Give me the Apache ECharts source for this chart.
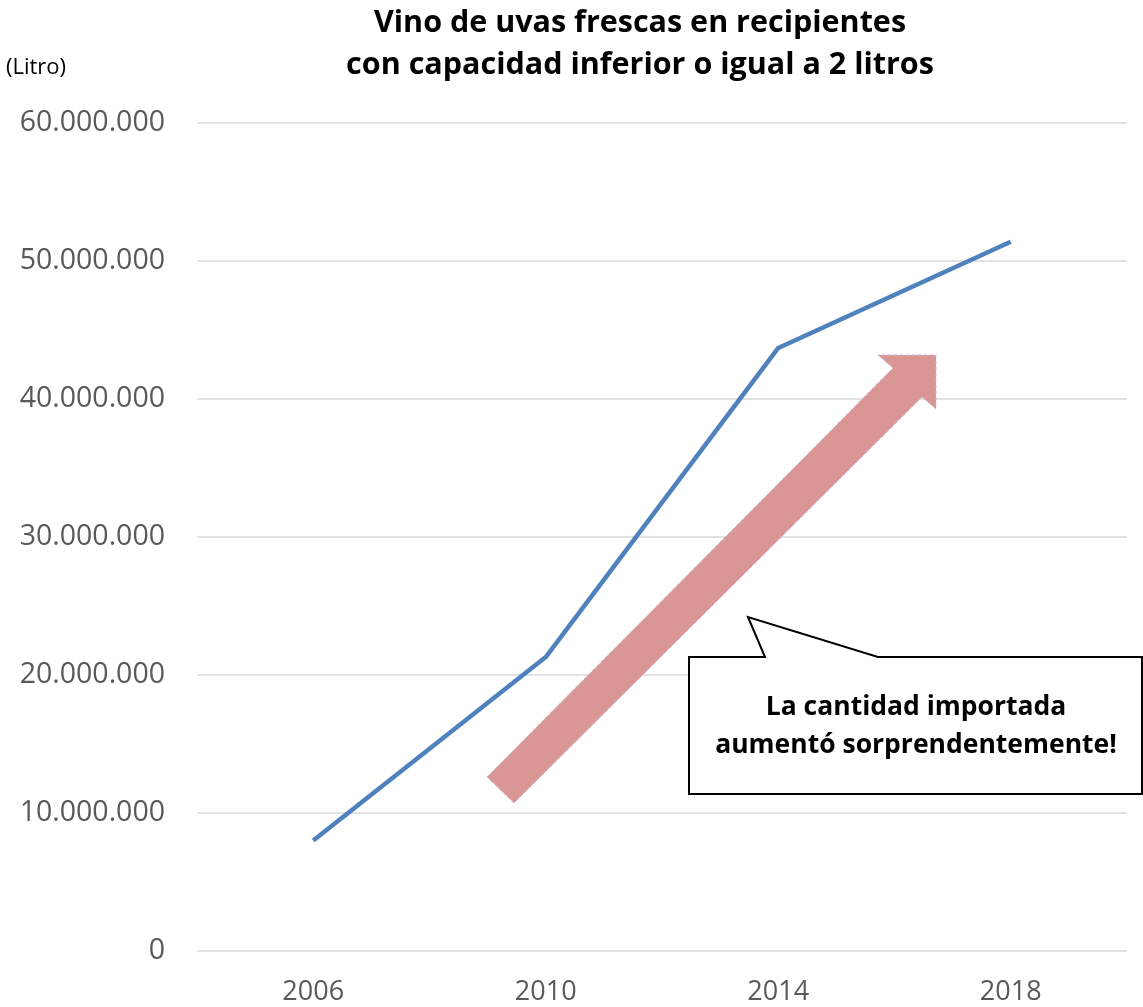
<!DOCTYPE html>
<html><head><meta charset="utf-8">
<script src="https://cdn.jsdelivr.net/npm/echarts@6/dist/echarts.min.js"></script>
<style>html,body{margin:0;padding:0;background:#fff}#c{width:1143px;height:1007px}</style>
</head><body><div id="c"></div>
<script>
const years = ['2006', '2010', '2014', '2018'];
const litros = [8000000, 21300000, 43700000, 51400000];
const yTicks = [0, 10000000, 20000000, 30000000, 40000000, 50000000, 60000000];
const titleLines = ['Vino de uvas frescas en recipientes', 'con capacidad inferior o igual a 2 litros'];
const unitLabel = '(Litro)';
const calloutLines = ['La cantidad importada', 'aumentó sorprendentemente!'];

const FONT = '"Open Sans", "Noto Sans", sans-serif';
const chart = echarts.init(document.getElementById('c'));
function fmt(v){ return String(v).replace(/\B(?=(\d{3})+(?!\d))/g, '.'); }

chart.setOption({
  animation: false,
  backgroundColor: '#fff',
  title: {
    text: titleLines.join('\n'),
    left: 635, textAlign: 'center', top: -3,
    textStyle: { fontFamily: FONT, fontSize: 30.5, fontWeight: 'bold', color: '#000', lineHeight: 42 }
  },
  grid: { left: 197, right: 16, top: 123, bottom: 56, containLabel: false },
  xAxis: {
    type: 'category', data: years, boundaryGap: true,
    axisLine: { show: false }, axisTick: { show: false },
    axisLabel: { fontFamily: FONT, fontSize: 27, color: '#595959', margin: 28 }
  },
  yAxis: {
    type: 'value', min: yTicks[0], max: yTicks[yTicks.length-1], interval: yTicks[1]-yTicks[0],
    axisLine: { show: false }, axisTick: { show: false },
    splitLine: { lineStyle: { color: '#d9d9d9', width: 1.5 } },
    axisLabel: { fontFamily: FONT, fontSize: 28.5, color: '#595959', margin: 32, formatter: fmt }
  },
  series: [{
    type: 'line', data: litros, symbol: 'none',
    lineStyle: { color: '#4F81BD', width: 4.5 }
  }],
  graphic: [
    { type: 'text', left: 6, top: 57, style: { text: unitLabel, font: '22px ' + FONT, fill: '#000' } },
    { type: 'polygon', z: 10,
      shape: { points: [[487,777],[893,368],[878,355],[936,355],[936,409],[922,397],[514,803]] },
      style: { fill: '#D99694', stroke: '#c9b3d9', lineWidth: 1, lineDash: [3,3] } },
    { type: 'polygon', z: 11,
      shape: { points: [[689,657],[765,657],[748,617],[878,657],[1142,657],[1142,794],[689,794]] },
      style: { fill: '#fff', stroke: '#000', lineWidth: 2 } },
    { type: 'text', z: 12, x: 916, y: 726,
      style: { text: calloutLines.join('\n'), font: 'bold 26.5px ' + FONT, fill: '#000', align: 'center', verticalAlign: 'middle', lineHeight: 38 } }
  ]
});
</script></body></html>
